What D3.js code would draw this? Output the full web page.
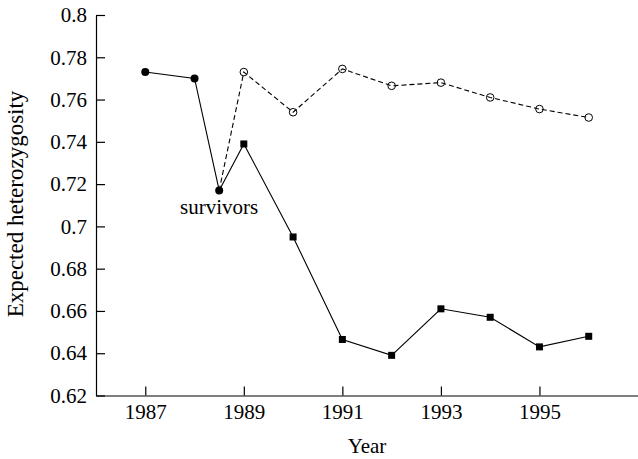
<!DOCTYPE html>
<html>
<head>
<meta charset="utf-8">
<script src="https://cdn.jsdelivr.net/npm/d3@7"></script>
<style>
  body { margin: 0; background: #fff; }
  svg { display: block; font-family: "Liberation Serif", "DejaVu Serif", serif; }
  .axis path, .axis line { stroke: #000; stroke-width: 1.2; }
  .axis text { font-size: 21px; fill: #000; font-family: "Liberation Serif", serif; }
</style>
</head>
<body>
<div id="graph01"></div>
<script>
// 生存者の分岐前（黒丸、実線）
const beforeYears = [1987, 1988, 1988.5];
const beforeValues = [0.773, 0.770, 0.717];

// 分岐後の年
const afterYears = [1989, 1990, 1991, 1992, 1993, 1994, 1995, 1996];
// 黒四角、実線
const squareValues = [0.739, 0.695, 0.6465, 0.639, 0.661, 0.657, 0.643, 0.648];
// 白丸、破線
const circleValues = [0.773, 0.754, 0.7745, 0.7665, 0.768, 0.761, 0.7555, 0.7515];

// 目盛り
const xTickValues = [1987, 1989, 1991, 1993, 1995];
const yTickValues = [0.62, 0.64, 0.66, 0.68, 0.7, 0.72, 0.74, 0.76, 0.78, 0.8];

const xLabel = "Year";
const yLabel = "Expected heterozygosity";
const noteLabel = "survivors";

(function() {
    const width = 638;
    const height = 459;

    const svg = d3.select('#graph01')
        .append("svg")
        .attr("width", width)
        .attr("height", height);

    // 軸のスケール
    const xScale = d3.scaleLinear()
        .domain([1986, 1997])
        .range([96, 638]);
    const yScale = d3.scaleLinear()
        .domain([0.62, 0.8])
        .range([395.5, 15]);

    // X軸（目盛りは内向き）
    svg.append("g")
        .attr("class", "axis axis-x")
        .attr("transform", "translate(0," + yScale(0.62) + ")")
        .call(d3.axisBottom(xScale)
            .tickValues(xTickValues)
            .tickFormat(d3.format("d"))
            .tickSizeInner(-9)
            .tickSizeOuter(0)
            .tickPadding(9));

    // Y軸
    svg.append("g")
        .attr("class", "axis axis-y")
        .attr("transform", "translate(" + xScale(1986) + ",0)")
        .call(d3.axisLeft(yScale)
            .tickValues(yTickValues)
            .tickFormat(d => String(d))
            .tickSizeInner(-9)
            .tickSizeOuter(0)
            .tickPadding(9));

    // d3の既定フォントを外す
    svg.selectAll(".axis").attr("font-family", null).attr("font-size", null);

    // 軸タイトル
    svg.append("text")
        .attr("x", (xScale(1986) + xScale(1997)) / 2)
        .attr("y", 453)
        .attr("text-anchor", "middle")
        .attr("font-size", 21)
        .text(xLabel);

    svg.append("text")
        .attr("transform", "translate(23," + 204 + ") rotate(-90)")
        .attr("text-anchor", "middle")
        .attr("font-size", 23)
        .text(yLabel);

    const line = d3.line()
        .x(d => xScale(d[0]))
        .y(d => yScale(d[1]));

    const before = beforeYears.map((y, i) => [y, beforeValues[i]]);
    const fork = before[before.length - 1];
    const squares = [fork].concat(afterYears.map((y, i) => [y, squareValues[i]]));
    const circles = [fork].concat(afterYears.map((y, i) => [y, circleValues[i]]));

    // 破線（白丸）
    svg.append("path")
        .datum(circles)
        .attr("fill", "none")
        .attr("stroke", "#000")
        .attr("stroke-width", 1.1)
        .attr("stroke-dasharray", "5,3")
        .attr("d", line);

    // 実線
    svg.append("path")
        .datum(before)
        .attr("fill", "none")
        .attr("stroke", "#000")
        .attr("stroke-width", 1.1)
        .attr("d", line);
    svg.append("path")
        .datum(squares)
        .attr("fill", "none")
        .attr("stroke", "#000")
        .attr("stroke-width", 1.1)
        .attr("d", line);

    // マーカー
    svg.selectAll(".open")
        .data(circles.slice(1))
        .join("circle")
        .attr("cx", d => xScale(d[0]))
        .attr("cy", d => yScale(d[1]))
        .attr("r", 3.8)
        .attr("fill", "none")
        .attr("stroke", "#000")
        .attr("stroke-width", 1);

    svg.selectAll(".sq")
        .data(squares.slice(1))
        .join("rect")
        .attr("x", d => xScale(d[0]) - 3.5)
        .attr("y", d => yScale(d[1]) - 3.5)
        .attr("width", 7)
        .attr("height", 7)
        .attr("fill", "#000");

    svg.selectAll(".dot")
        .data(before)
        .join("circle")
        .attr("cx", d => xScale(d[0]))
        .attr("cy", d => yScale(d[1]))
        .attr("r", 4)
        .attr("fill", "#000");

    // 注記
    svg.append("text")
        .attr("x", xScale(fork[0]))
        .attr("y", yScale(fork[1]) + 24)
        .attr("text-anchor", "middle")
        .attr("font-size", 21)
        .text(noteLabel);
})();
</script>
</body>
</html>
